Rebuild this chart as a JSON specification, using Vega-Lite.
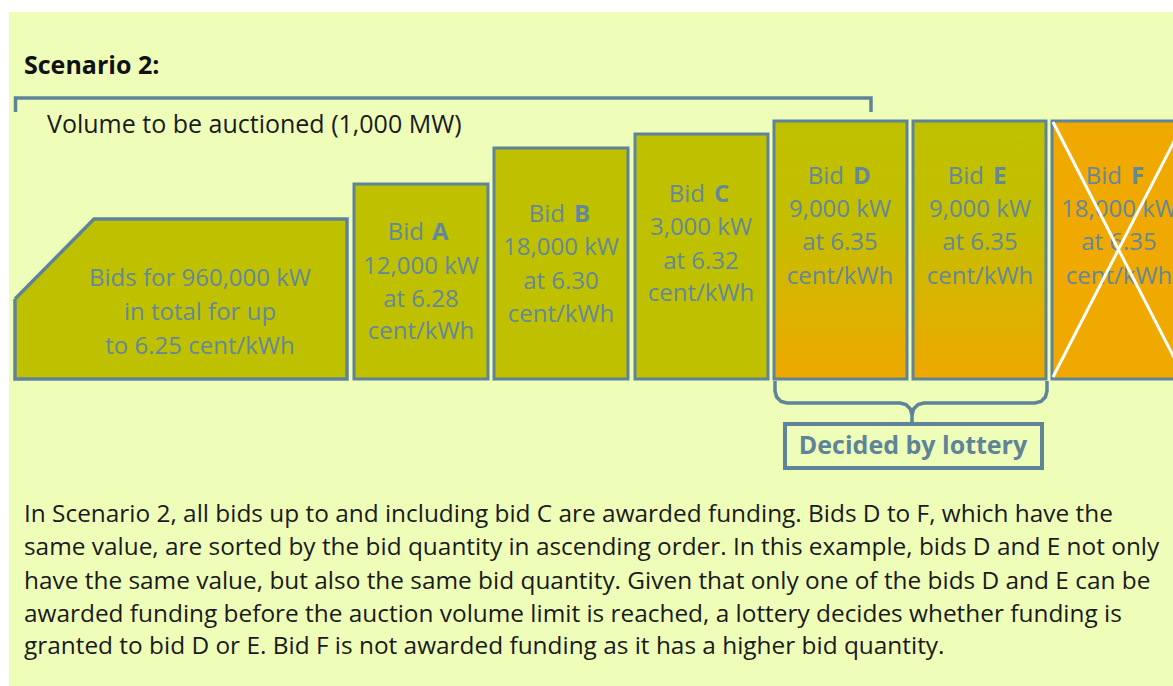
{
  "$schema": "https://vega.github.io/schema/vega-lite/v6.json",
  "width": 1173,
  "height": 686,
  "autosize": {"type": "none"},
  "padding": 0,
  "background": "white",
  "config": {"view": {"stroke": null}, "font": "Open Sans"},
  "datasets": {
    "panel": [{"x0": 9, "x1": 1173, "y0": 12, "y1": 686}],
    "boxes": [
      {"bid": "A", "status": "awarded", "x0": 354, "x1": 488, "y0": 184, "y1": 379},
      {"bid": "B", "status": "awarded", "x0": 494, "x1": 628, "y0": 148, "y1": 379},
      {"bid": "C", "status": "awarded", "x0": 635, "x1": 768, "y0": 134, "y1": 379},
      {"bid": "D", "status": "lottery", "x0": 774, "x1": 907, "y0": 121, "y1": 379},
      {"bid": "E", "status": "lottery", "x0": 913, "x1": 1046, "y0": 121, "y1": 379},
      {"bid": "F", "status": "rejected", "x0": 1052, "x1": 1186, "y0": 121, "y1": 379}
    ],
    "pentFill": [
      {"x": 15, "y": 299, "y2": 379},
      {"x": 94, "y": 219, "y2": 379},
      {"x": 347, "y": 219, "y2": 379}
    ],
    "paths": [
      {"path": "top", "seq": 1, "x": 15.5, "y": 112},
      {"path": "top", "seq": 2, "x": 15.5, "y": 98},
      {"path": "top", "seq": 3, "x": 871, "y": 98},
      {"path": "top", "seq": 4, "x": 871, "y": 112},
      {"path": "pent", "seq": 1, "x": 15, "y": 299},
      {"path": "pent", "seq": 2, "x": 94, "y": 219},
      {"path": "pent", "seq": 3, "x": 347, "y": 219},
      {"path": "pent", "seq": 4, "x": 347, "y": 379},
      {"path": "pent", "seq": 5, "x": 15, "y": 379},
      {"path": "pent", "seq": 6, "x": 15, "y": 299},
      {"path": "braceL", "seq": 1, "x": 775, "y": 381},
      {"path": "braceL", "seq": 2, "x": 775, "y": 391},
      {"path": "braceL", "seq": 3, "x": 776.6, "y": 397},
      {"path": "braceL", "seq": 4, "x": 781, "y": 401.4},
      {"path": "braceL", "seq": 5, "x": 787, "y": 403},
      {"path": "braceL", "seq": 6, "x": 900, "y": 403},
      {"path": "braceL", "seq": 7, "x": 906, "y": 404.6},
      {"path": "braceL", "seq": 8, "x": 910.4, "y": 409},
      {"path": "braceL", "seq": 9, "x": 912, "y": 415},
      {"path": "braceL", "seq": 10, "x": 912, "y": 422},
      {"path": "braceR", "seq": 1, "x": 1047, "y": 381},
      {"path": "braceR", "seq": 2, "x": 1047, "y": 391},
      {"path": "braceR", "seq": 3, "x": 1045.4, "y": 397},
      {"path": "braceR", "seq": 4, "x": 1041, "y": 401.4},
      {"path": "braceR", "seq": 5, "x": 1035, "y": 403},
      {"path": "braceR", "seq": 6, "x": 924, "y": 403},
      {"path": "braceR", "seq": 7, "x": 918, "y": 404.6},
      {"path": "braceR", "seq": 8, "x": 913.6, "y": 409},
      {"path": "braceR", "seq": 9, "x": 912, "y": 415}
    ],
    "cross": [
      {"x": 1053, "y": 122, "x2": 1184, "y2": 377},
      {"x": 1053, "y": 377, "x2": 1184, "y2": 122}
    ],
    "lotteryBox": [{"x0": 785, "x1": 1042, "y0": 424, "y1": 468}],
    "texts": [
      {"role": "heading", "x": 24, "y": 66, "label": "Scenario 2:"},
      {"role": "volume", "x": 47, "y": 125, "label": "Volume to be auctioned (1,000 MW)"},
      {"role": "box", "x": 200, "y": 279, "label": "Bids for 960,000 kW"},
      {"role": "box", "x": 200, "y": 313, "label": "in total for up"},
      {"role": "box", "x": 200, "y": 347, "label": "to 6.25 cent/kWh"},
      {"role": "bidWord", "x": 424, "y": 233, "label": "Bid"},
      {"role": "bidLetter", "x": 432, "y": 233, "label": "A"},
      {"role": "box", "x": 421, "y": 267, "label": "12,000 kW"},
      {"role": "box", "x": 421, "y": 300, "label": "at 6.28"},
      {"role": "box", "x": 421, "y": 332, "label": "cent/kWh"},
      {"role": "bidWord", "x": 565, "y": 215, "label": "Bid"},
      {"role": "bidLetter", "x": 574, "y": 215, "label": "B"},
      {"role": "box", "x": 561, "y": 248, "label": "18,000 kW"},
      {"role": "box", "x": 561, "y": 282, "label": "at 6.30"},
      {"role": "box", "x": 561, "y": 315, "label": "cent/kWh"},
      {"role": "bidWord", "x": 705, "y": 195, "label": "Bid"},
      {"role": "bidLetter", "x": 714, "y": 195, "label": "C"},
      {"role": "box", "x": 701, "y": 228, "label": "3,000 kW"},
      {"role": "box", "x": 701, "y": 262, "label": "at 6.32"},
      {"role": "box", "x": 701, "y": 294, "label": "cent/kWh"},
      {"role": "bidWord", "x": 844, "y": 177, "label": "Bid"},
      {"role": "bidLetter", "x": 853, "y": 177, "label": "D"},
      {"role": "box", "x": 840, "y": 210, "label": "9,000 kW"},
      {"role": "box", "x": 840, "y": 243, "label": "at 6.35"},
      {"role": "box", "x": 840, "y": 277, "label": "cent/kWh"},
      {"role": "bidWord", "x": 984, "y": 177, "label": "Bid"},
      {"role": "bidLetter", "x": 993, "y": 177, "label": "E"},
      {"role": "box", "x": 980, "y": 210, "label": "9,000 kW"},
      {"role": "box", "x": 980, "y": 243, "label": "at 6.35"},
      {"role": "box", "x": 980, "y": 277, "label": "cent/kWh"},
      {"role": "bidWord", "x": 1122, "y": 177, "label": "Bid"},
      {"role": "bidLetter", "x": 1131, "y": 177, "label": "F"},
      {"role": "box", "x": 1119, "y": 210, "label": "18,000 kW"},
      {"role": "box", "x": 1119, "y": 243, "label": "at 6.35"},
      {"role": "box", "x": 1119, "y": 277, "label": "cent/kWh"},
      {"role": "lottery", "x": 913, "y": 446, "label": "Decided by lottery"},
      {"role": "para", "x": 24, "y": 515, "label": "In Scenario 2, all bids up to and including bid C are awarded funding. Bids D to F, which have the"},
      {"role": "para", "x": 24, "y": 548, "label": "same value, are sorted by the bid quantity in ascending order. In this example, bids D and E not only"},
      {"role": "para", "x": 24, "y": 582, "label": "have the same value, but also the same bid quantity. Given that only one of the bids D and E can be"},
      {"role": "para", "x": 24, "y": 615, "label": "awarded funding before the auction volume limit is reached, a lottery decides whether funding is"},
      {"role": "para", "x": 24, "y": 647, "label": "granted to bid D or E. Bid F is not awarded funding as it has a higher bid quantity."}
    ]
  },
  "layer": [
    {
      "data": {"name": "panel"},
      "mark": {"type": "rect", "fill": "#EEFDB8"},
      "encoding": {
        "x": {"field": "x0", "type": "quantitative", "scale": {"domain": [0, 1173], "nice": false, "zero": false}, "axis": null},
        "x2": {"field": "x1"},
        "y": {"field": "y0", "type": "quantitative", "scale": {"domain": [0, 686], "nice": false, "zero": false, "reverse": true}, "axis": null},
        "y2": {"field": "y1"}
      }
    },
    {
      "data": {"name": "pentFill"},
      "mark": {"type": "area", "fill": "#BFC100", "opacity": 1},
      "encoding": {
        "x": {"field": "x", "type": "quantitative", "scale": {"domain": [0, 1173], "nice": false, "zero": false}, "axis": null},
        "y": {"field": "y", "type": "quantitative", "scale": {"domain": [0, 686], "nice": false, "zero": false, "reverse": true}, "axis": null},
        "y2": {"field": "y2"}
      }
    },
    {
      "data": {"name": "boxes"},
      "transform": [{"filter": "datum.status == 'awarded'"}],
      "mark": {"type": "rect", "fill": "#BFC100", "stroke": "#5F8499", "strokeWidth": 3},
      "encoding": {
        "x": {"field": "x0", "type": "quantitative", "scale": {"domain": [0, 1173], "nice": false, "zero": false}, "axis": null},
        "x2": {"field": "x1"},
        "y": {"field": "y0", "type": "quantitative", "scale": {"domain": [0, 686], "nice": false, "zero": false, "reverse": true}, "axis": null},
        "y2": {"field": "y1"}
      }
    },
    {
      "data": {"name": "boxes"},
      "transform": [{"filter": "datum.status == 'lottery'"}],
      "mark": {
        "type": "rect",
        "fill": {"gradient": "linear", "x1": 0, "y1": 0, "x2": 0, "y2": 1, "stops": [
          {"offset": 0, "color": "#BFC100"},
          {"offset": 0.4, "color": "#C4BE00"},
          {"offset": 1, "color": "#EFA800"}
        ]},
        "stroke": "#5F8499", "strokeWidth": 3
      },
      "encoding": {
        "x": {"field": "x0", "type": "quantitative", "scale": {"domain": [0, 1173], "nice": false, "zero": false}, "axis": null},
        "x2": {"field": "x1"},
        "y": {"field": "y0", "type": "quantitative", "scale": {"domain": [0, 686], "nice": false, "zero": false, "reverse": true}, "axis": null},
        "y2": {"field": "y1"}
      }
    },
    {
      "data": {"name": "boxes"},
      "transform": [{"filter": "datum.status == 'rejected'"}],
      "mark": {"type": "rect", "fill": "#F0A900", "stroke": "#5F8499", "strokeWidth": 3, "clip": true},
      "encoding": {
        "x": {"field": "x0", "type": "quantitative", "scale": {"domain": [0, 1173], "nice": false, "zero": false}, "axis": null},
        "x2": {"field": "x1"},
        "y": {"field": "y0", "type": "quantitative", "scale": {"domain": [0, 686], "nice": false, "zero": false, "reverse": true}, "axis": null},
        "y2": {"field": "y1"}
      }
    },
    {
      "data": {"name": "paths"},
      "mark": {"type": "line", "stroke": "#5F8499", "strokeWidth": 3.5, "strokeCap": "butt", "strokeJoin": "miter"},
      "encoding": {
        "x": {"field": "x", "type": "quantitative", "scale": {"domain": [0, 1173], "nice": false, "zero": false}, "axis": null},
        "y": {"field": "y", "type": "quantitative", "scale": {"domain": [0, 686], "nice": false, "zero": false, "reverse": true}, "axis": null},
        "detail": {"field": "path", "type": "nominal"},
        "order": {"field": "seq", "type": "quantitative"}
      }
    },
    {
      "data": {"name": "lotteryBox"},
      "mark": {"type": "rect", "fill": "#EEFDB8", "stroke": "#5F8499", "strokeWidth": 4},
      "encoding": {
        "x": {"field": "x0", "type": "quantitative", "scale": {"domain": [0, 1173], "nice": false, "zero": false}, "axis": null},
        "x2": {"field": "x1"},
        "y": {"field": "y0", "type": "quantitative", "scale": {"domain": [0, 686], "nice": false, "zero": false, "reverse": true}, "axis": null},
        "y2": {"field": "y1"}
      }
    },
    {
      "data": {"name": "texts"},
      "transform": [{"filter": "datum.role == 'box'"}],
      "mark": {"type": "text", "align": "center", "baseline": "middle", "fontSize": 24, "color": "#64889B", "clip": true},
      "encoding": {
        "x": {"field": "x", "type": "quantitative", "scale": {"domain": [0, 1173], "nice": false, "zero": false}, "axis": null},
        "y": {"field": "y", "type": "quantitative", "scale": {"domain": [0, 686], "nice": false, "zero": false, "reverse": true}, "axis": null},
        "text": {"field": "label"}
      }
    },
    {
      "data": {"name": "texts"},
      "transform": [{"filter": "datum.role == 'bidWord'"}],
      "mark": {"type": "text", "align": "right", "baseline": "middle", "fontSize": 24, "color": "#64889B", "clip": true},
      "encoding": {
        "x": {"field": "x", "type": "quantitative", "scale": {"domain": [0, 1173], "nice": false, "zero": false}, "axis": null},
        "y": {"field": "y", "type": "quantitative", "scale": {"domain": [0, 686], "nice": false, "zero": false, "reverse": true}, "axis": null},
        "text": {"field": "label"}
      }
    },
    {
      "data": {"name": "texts"},
      "transform": [{"filter": "datum.role == 'bidLetter'"}],
      "mark": {"type": "text", "align": "left", "baseline": "middle", "fontSize": 24, "fontWeight": "bold", "color": "#64889B", "clip": true},
      "encoding": {
        "x": {"field": "x", "type": "quantitative", "scale": {"domain": [0, 1173], "nice": false, "zero": false}, "axis": null},
        "y": {"field": "y", "type": "quantitative", "scale": {"domain": [0, 686], "nice": false, "zero": false, "reverse": true}, "axis": null},
        "text": {"field": "label"}
      }
    },
    {
      "data": {"name": "cross"},
      "mark": {"type": "rule", "stroke": "white", "strokeWidth": 3, "clip": true},
      "encoding": {
        "x": {"field": "x", "type": "quantitative", "scale": {"domain": [0, 1173], "nice": false, "zero": false}, "axis": null},
        "y": {"field": "y", "type": "quantitative", "scale": {"domain": [0, 686], "nice": false, "zero": false, "reverse": true}, "axis": null},
        "x2": {"field": "x2"},
        "y2": {"field": "y2"}
      }
    },
    {
      "data": {"name": "texts"},
      "transform": [{"filter": "datum.role == 'heading'"}],
      "mark": {"type": "text", "align": "left", "baseline": "middle", "fontSize": 25, "fontWeight": "bold", "color": "#111111"},
      "encoding": {
        "x": {"field": "x", "type": "quantitative", "scale": {"domain": [0, 1173], "nice": false, "zero": false}, "axis": null},
        "y": {"field": "y", "type": "quantitative", "scale": {"domain": [0, 686], "nice": false, "zero": false, "reverse": true}, "axis": null},
        "text": {"field": "label"}
      }
    },
    {
      "data": {"name": "texts"},
      "transform": [{"filter": "datum.role == 'volume'"}],
      "mark": {"type": "text", "align": "left", "baseline": "middle", "fontSize": 25, "color": "#1A1A1A"},
      "encoding": {
        "x": {"field": "x", "type": "quantitative", "scale": {"domain": [0, 1173], "nice": false, "zero": false}, "axis": null},
        "y": {"field": "y", "type": "quantitative", "scale": {"domain": [0, 686], "nice": false, "zero": false, "reverse": true}, "axis": null},
        "text": {"field": "label"}
      }
    },
    {
      "data": {"name": "texts"},
      "transform": [{"filter": "datum.role == 'para'"}],
      "mark": {"type": "text", "align": "left", "baseline": "middle", "fontSize": 24.4, "color": "#1A1A1A"},
      "encoding": {
        "x": {"field": "x", "type": "quantitative", "scale": {"domain": [0, 1173], "nice": false, "zero": false}, "axis": null},
        "y": {"field": "y", "type": "quantitative", "scale": {"domain": [0, 686], "nice": false, "zero": false, "reverse": true}, "axis": null},
        "text": {"field": "label"}
      }
    },
    {
      "data": {"name": "texts"},
      "transform": [{"filter": "datum.role == 'lottery'"}],
      "mark": {"type": "text", "align": "center", "baseline": "middle", "fontSize": 25, "fontWeight": "bold", "color": "#5F8499"},
      "encoding": {
        "x": {"field": "x", "type": "quantitative", "scale": {"domain": [0, 1173], "nice": false, "zero": false}, "axis": null},
        "y": {"field": "y", "type": "quantitative", "scale": {"domain": [0, 686], "nice": false, "zero": false, "reverse": true}, "axis": null},
        "text": {"field": "label"}
      }
    }
  ]
}
